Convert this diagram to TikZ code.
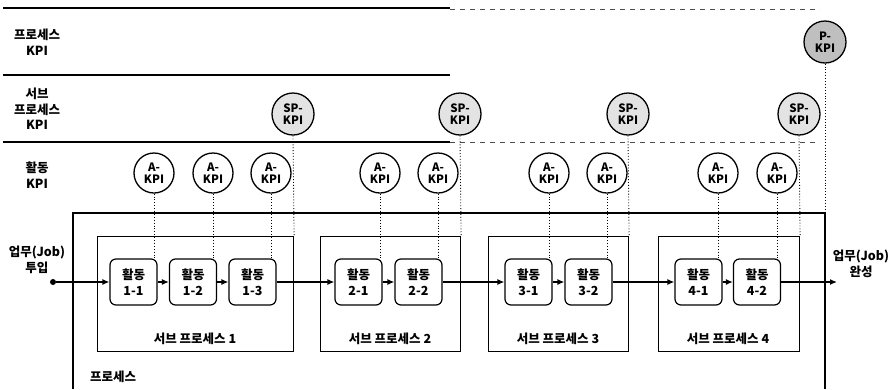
\documentclass[tikz,border=0pt]{standalone}
\usepackage{fontspec}
\setmainfont{Noto Sans CJK KR}
\usetikzlibrary{arrows.meta}
\begin{document}
\begin{tikzpicture}[x=1pt,y=-1pt,
  lbl/.style={font=\fontsize{12.5}{15.5}\selectfont\bfseries, align=center, inner sep=0pt},
  actbox/.style={draw, line width=1.2pt, rounded corners=6pt, minimum width=47pt, minimum height=46pt, inner sep=0pt, align=center, font=\fontsize{12.5}{16}\selectfont\bfseries},
  subbox/.style={draw, line width=1.1pt, anchor=north west, inner sep=0pt, minimum height=115pt},
  kpi/.style={circle, draw, line width=1.3pt, minimum size=40pt, inner sep=0pt, align=center, font=\fontsize{11.5}{12}\selectfont\bfseries},
  akpi/.style={kpi, fill=white},
  spkpi/.style={kpi, fill=gray!22, minimum size=42pt},
  pkpi/.style={kpi, fill=gray!50, minimum size=42pt},
  link/.style={dotted, line width=0.9pt},
  flow/.style={line width=1.3pt, -{Latex[length=7pt,width=6pt]}},
  rule/.style={line width=1.2pt},
  ruledash/.style={line width=0.7pt, black!70, dash pattern=on 5pt off 5pt},
  ]
\useasboundingbox (0,0) rectangle (895,389);

% horizontal rules
\draw[rule] (3,8) -- (450,8);
\draw[ruledash] (450,9) -- (820,9);
\draw[rule] (3,75) -- (450,75);
\draw[rule] (3,142) -- (450,142);
\draw[ruledash] (450,142) -- (820,142);

% left labels
\node[lbl] (lp) at (37,42) {프로세스\\KPI};
\node[lbl] (lsp) at (37,109) {서브\\프로세스\\KPI};
\node[lbl] (la) at (37,175) {활동\\KPI};

% process frame
\coordinate (procTL) at (73,213);
\coordinate (procTR) at (825,213);
\draw[rule] (73,389) -- (procTL) -- (procTR) -- (825,389);
\node[lbl] (plabel) at (113,377) {프로세스};

% subprocess boxes
\node[subbox, minimum width=196pt] (sp1) at (97,236) {};
\node[subbox, minimum width=140pt] (sp2) at (320,236) {};
\node[subbox, minimum width=140pt] (sp3) at (488,236) {};
\node[subbox, minimum width=141pt] (sp4) at (658,236) {};
\node[lbl] (sl1) at (195,339) {서브 프로세스 1};
\node[lbl] (sl2) at (390,339) {서브 프로세스 2};
\node[lbl] (sl3) at (558,339) {서브 프로세스 3};
\node[lbl] (sl4) at (728,339) {서브 프로세스 4};

% activity boxes
\node[actbox] (b11) at (133.5,282) {활동\\1-1};
\node[actbox] (b12) at (193,282) {활동\\1-2};
\node[actbox] (b13) at (252.5,282) {활동\\1-3};
\node[actbox] (b21) at (358.5,282) {활동\\2-1};
\node[actbox] (b22) at (418.5,282) {활동\\2-2};
\node[actbox] (b31) at (528.5,282) {활동\\3-1};
\node[actbox] (b32) at (588.5,282) {활동\\3-2};
\node[actbox] (b41) at (698.5,282) {활동\\4-1};
\node[actbox] (b42) at (757,282) {활동\\4-2};

% flow
\node[circle, fill, inner sep=0pt, minimum size=6pt] (start) at (53,282) {};
\coordinate (finish) at (837,282);
\draw[flow] (start) -- (b11);
\draw[flow] (b11) -- (b12);
\draw[flow] (b12) -- (b13);
\draw[flow] (b13) -- (b21);
\draw[flow] (b21) -- (b22);
\draw[flow] (b22) -- (b31);
\draw[flow] (b31) -- (b32);
\draw[flow] (b32) -- (b41);
\draw[flow] (b41) -- (b42);
\draw[flow] (b42) -- (finish);
\node[lbl] (jin) at (37,260) {업무(Job)\\투입};
\node[lbl] (jout) at (861,264) {업무(Job)\\완성};

% A-KPI
\node[akpi] (a11) at (154,173) {A-\\KPI};
\node[akpi] (a12) at (213,173) {A-\\KPI};
\node[akpi] (a13) at (271,173) {A-\\KPI};
\node[akpi] (a21) at (380,173) {A-\\KPI};
\node[akpi] (a22) at (438,173) {A-\\KPI};
\node[akpi] (a31) at (549,173) {A-\\KPI};
\node[akpi] (a32) at (607,173) {A-\\KPI};
\node[akpi] (a41) at (718,173) {A-\\KPI};
\node[akpi] (a42) at (777,173) {A-\\KPI};
\foreach \n in {11,12,13,21,22,31,32,41,42}
  \draw[link] (a\n.south) -- (a\n.south |- b\n.north);

% SP-KPI
\node[spkpi] (s1) at (293,114) {SP-\\KPI};
\node[spkpi] (s2) at (460,114) {SP-\\KPI};
\node[spkpi] (s3) at (628,114) {SP-\\KPI};
\node[spkpi] (s4) at (799,114) {SP-\\KPI};
\foreach \n in {1,2,3,4}
  \draw[link] (s\n.south) -- (sp\n.north east);

% P-KPI
\node[pkpi] (pk) at (825,42) {P-\\KPI};
\draw[link] (pk.south) -- (procTR);
\end{tikzpicture}
\end{document}
